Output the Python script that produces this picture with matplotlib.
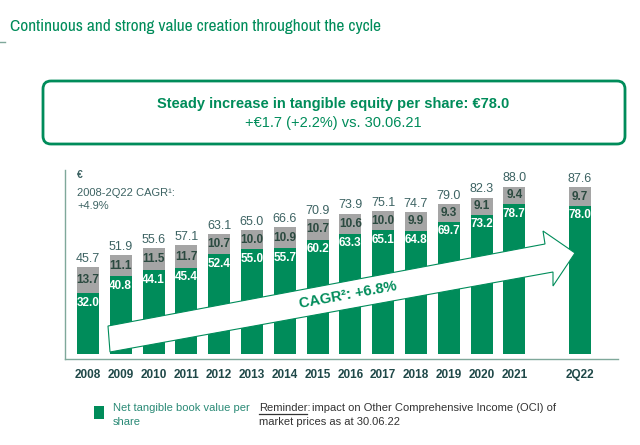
import numpy as np
import matplotlib
matplotlib.use('Agg')
import matplotlib.pyplot as plt
from matplotlib.patches import FancyBboxPatch, Polygon, Rectangle
from matplotlib import font_manager

# data
years = ['2008', '2009', '2010', '2011', '2012', '2013', '2014', '2015',
         '2016', '2017', '2018', '2019', '2020', '2021', '2Q22']
xpos = [0, 1, 2, 3, 4, 5, 6, 7, 8, 9, 10, 11, 12, 13, 15]
ntbv = [32.0, 40.8, 44.1, 45.4, 52.4, 55.0, 55.7, 60.2, 63.3, 65.1, 64.8, 69.7, 73.2, 78.7, 78.0]
oci = [13.7, 11.1, 11.5, 11.7, 10.7, 10.0, 10.9, 10.7, 10.6, 10.0, 9.9, 9.3, 9.1, 9.4, 9.7]
totals = [45.7, 51.9, 55.6, 57.1, 63.1, 65.0, 66.6, 70.9, 73.9, 75.1, 74.7, 79.0, 82.3, 88.0, 87.6]

GREEN = '#008c5a'
GRAY = '#a5a5a5'
TEAL = '#3d6363'
LINE = '#7fa89a'

plt.rcParams['font.family'] = ['Liberation Sans', 'DejaVu Sans']

# look for a narrow face for the title (slide uses Arial Narrow)
title_fp = None
for f in font_manager.fontManager.ttflist:
    nm = f.name + ' ' + f.fname
    if ('Narrow' in nm or 'Condensed' in nm) and 'Bold' not in nm and 'Oblique' not in nm \
            and 'Italic' not in nm:
        title_fp = font_manager.FontProperties(fname=f.fname, size=12.5)
        if 'Narrow' in nm:
            break
if title_fp is None:
    title_fp = font_manager.FontProperties(family='Liberation Sans', size=11.5)

fig = plt.figure(figsize=(6.4, 4.45), dpi=100)
ax = fig.add_axes([65 / 640, 1 - 359 / 445, (618 - 65) / 640, (359 - 170) / 445])

x = np.array(xpos)
ax.bar(x, ntbv, width=0.67, color=GREEN, zorder=2)
ax.bar(x, oci, width=0.67, bottom=ntbv, color=GRAY, zorder=2)

for xi, g, o, t in zip(x, ntbv, oci, totals):
    ax.text(xi, t + 1.2, f'{t:.1f}', ha='center', va='bottom', fontsize=9, color=TEAL)
    ax.text(xi, g + o / 2, f'{o:.1f}', ha='center', va='center', fontsize=8.5,
            fontweight='bold', color='#2b4a40')
    ax.text(xi, g - 5, f'{g:.1f}', ha='center', va='center', fontsize=8.5,
            fontweight='bold', color='white')

ax.set_xlim(-0.70, 16.16)
ax.set_ylim(-2.6, 96.8)
ax.set_xticks(x)
ax.set_xticklabels(years, fontsize=8.5, fontweight='bold', color='#1f4848')
ax.tick_params(axis='x', length=0, pad=7)
ax.set_yticks([])
for s in ['top', 'right']:
    ax.spines[s].set_visible(False)
for s in ['left', 'bottom']:
    ax.spines[s].set_color(LINE)
    ax.spines[s].set_linewidth(1)

# overlay in pixel coordinates for the slide decorations
ov = fig.add_axes([0, 0, 1, 1], zorder=5)
ov.set_xlim(0, 640)
ov.set_ylim(445, 0)
ov.axis('off')
ov.patch.set_alpha(0)

ov.text(10, 27, 'Continuous and strong value creation throughout the cycle',
        fontproperties=title_fp, color=GREEN, va='center', ha='left')
ov.plot([0, 5], [42, 42], color=LINE, lw=1)

box = FancyBboxPatch((43, 81), 582, 63, boxstyle='round,pad=0,rounding_size=8',
                     fc='white', ec=GREEN, lw=2)
ov.add_patch(box)
ov.text(333, 104, 'Steady increase in tangible equity per share: €78.0', ha='center',
        va='center', fontsize=10.5, fontweight='bold', color=GREEN)
ov.text(333, 123, '+€1.7 (+2.2%) vs. 30.06.21', ha='center', va='center',
        fontsize=10.5, color=GREEN)

ov.text(77, 175, '€', fontsize=7.5, fontweight='bold', color=TEAL, va='center')
ov.text(77, 193, '2008-2Q22 CAGR¹:', fontsize=8, color=TEAL, va='center')
ov.text(77, 206, '+4.9%', fontsize=8, color=TEAL, va='center')

arrow = Polygon([(108, 326), (545, 244), (543, 231), (575, 253), (553, 286),
                 (553, 272), (110, 352)], closed=True, fc='white', ec=GREEN, lw=0.8)
ov.add_patch(arrow)
ov.text(348, 295, 'CAGR²: +6.8%', rotation=10.5, rotation_mode='anchor', ha='center',
        va='center', fontsize=10.5, fontweight='bold', color=GREEN)

ov.add_patch(Rectangle((94, 406), 10, 13, fc=GREEN, ec='none'))
ov.text(113, 408, 'Net tangible book value per', fontsize=8, color='#2a8a76', va='center')
ov.text(113, 422, 'share', fontsize=8, color='#2a8a76', va='center')
ov.text(259, 408, 'Reminder:', fontsize=8, color='#333333', va='center')
ov.plot([259, 307], [414, 414], color='#333333', lw=0.9)
ov.text(312, 408, 'impact on Other Comprehensive Income (OCI) of', fontsize=8,
        color='#333333', va='center')
ov.text(259, 422, 'market prices as at 30.06.22', fontsize=8, color='#333333', va='center')

fig.savefig('out.png', dpi=100)
